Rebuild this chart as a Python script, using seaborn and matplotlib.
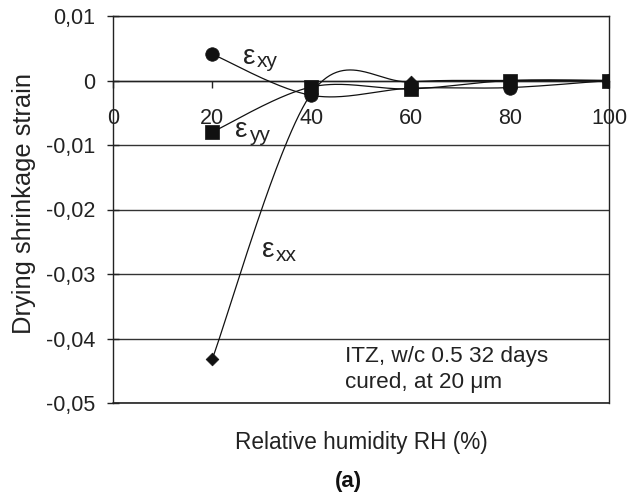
import numpy as np
import pandas as pd
import seaborn as sns
import matplotlib
matplotlib.use("Agg")
import matplotlib.pyplot as plt

# ---------------- data ----------------
rh = [20, 40, 60, 80, 100]
eps_xx = [-0.0432, -0.0020, -0.0002, 0.0000, 0.0000]
eps_xy = [0.0041, -0.0023, -0.0012, -0.0011, 0.0000]
eps_yy = [-0.0080, -0.0010, -0.0013, 0.0000, 0.0000]

x_ticks = [0, 20, 40, 60, 80, 100]
x_tick_labels = ["0", "20", "40", "60", "80", "100"]
y_ticks = [-0.05, -0.04, -0.03, -0.02, -0.01, 0.0, 0.01]
y_tick_labels = ["-0,05", "-0,04", "-0,03", "-0,02", "-0,01", "0", "0,01"]

x_label = "Relative humidity RH (%)"
y_label = "Drying shrinkage strain"
note = "ITZ, w/c 0.5 32 days\ncured, at 20 \u03bcm"
panel = "(a)"


def excel_smooth(x, y, n=60):
    """Excel-style smoothed line (cubic Bezier, Catmull-Rom tangents / 6)."""
    pts = np.column_stack([x, y]).astype(float)
    m = len(pts)
    out = []
    t = np.linspace(0, 1, n)[:, None]
    for i in range(m - 1):
        p0, p3 = pts[i], pts[i + 1]
        prev = pts[i - 1] if i > 0 else pts[i]
        nxt = pts[i + 2] if i + 2 < m else pts[i + 1]
        c1 = p0 + (p3 - prev) / 6.0
        c2 = p3 - (nxt - p0) / 6.0
        seg = (1 - t) ** 3 * p0 + 3 * (1 - t) ** 2 * t * c1 + 3 * (1 - t) * t ** 2 * c2 + t ** 3 * p3
        out.append(seg if i == 0 else seg[1:])
    return np.vstack(out)


sns.set_theme(style="white")
plt.rcParams["font.family"] = ["Liberation Sans", "DejaVu Sans"]
TXT = "#222222"
FS = 15.5

fig = plt.figure(figsize=(6.32, 4.92), dpi=100)
ax = fig.add_axes([113 / 632, 1 - 403 / 492, 496 / 632, 387 / 492])

series = [("xx", eps_xx, "D", 42), ("xy", eps_xy, "o", 95), ("yy", eps_yy, "s", 90)]
for name, vals, mk, sz in series:
    sm = excel_smooth(rh, vals)
    df = pd.DataFrame({"x": sm[:, 0], "y": sm[:, 1]})
    sns.lineplot(data=df, x="x", y="y", sort=False, estimator=None,
                 color="#111111", lw=0.9, ax=ax, zorder=3)
for name, vals, mk, sz in series:
    sns.scatterplot(x=rh, y=vals, marker=mk, s=sz, color="#111111",
                    edgecolor="#111111", linewidth=0.5, ax=ax, zorder=4)

ax.set_xlim(0, 100)
ax.set_ylim(-0.05, 0.01)
ax.set_yticks(y_ticks)
ax.set_yticklabels(y_tick_labels)
ax.set_xticks(x_ticks)
ax.set_xticklabels(x_tick_labels)
ax.set_xlabel("")
ax.set_ylabel("")

ax.grid(axis="y", color="#333333", lw=1.0)
ax.grid(axis="x", visible=False)
for s in ["left", "right", "top", "bottom"]:
    ax.spines[s].set_visible(True)
    ax.spines[s].set_color("#222222")
    ax.spines[s].set_linewidth(1.0)
ax.spines["bottom"].set_position(("data", 0))
# bottom frame edge of the plot area
ax.axhline(y_ticks[0], color="#222222", lw=1.2, clip_on=False, zorder=2)

ax.tick_params(axis="y", direction="inout", length=9, width=1.0, pad=8.5,
               colors="#222222", labelcolor=TXT, labelsize=FS, left=True)
ax.tick_params(axis="x", direction="out", length=5, width=1.0, pad=15,
               colors="#222222", labelcolor=TXT, labelsize=FS, bottom=True)

# curve labels
lab = [("xy", 26.2, 0.0026), ("yy", 24.6, -0.0088), ("xx", 30.0, -0.0274)]
for sub, lx, ly in lab:
    ax.text(lx, ly, "\u03b5", fontsize=20, color=TXT, ha="left", va="baseline", zorder=5)
    ax.annotate(sub, (lx, ly), xytext=(10, -2.5), textcoords="offset points",
                fontsize=15, color=TXT, ha="left", va="baseline", zorder=5)

ax.text(46.8, -0.0448, note, fontsize=16.2, color=TXT, ha="left", va="center",
        linespacing=1.35, zorder=5)

fig.text(24 / 632, 1 - 203 / 492, y_label, rotation=90, ha="center", va="center",
         fontsize=18.4, color=TXT)
fig.text(361 / 632, 1 - 443 / 492, x_label, ha="center", va="center",
         fontsize=16.3, color=TXT)
fig.text(348 / 632, 1 - 482 / 492, panel, ha="center", va="center",
         fontsize=16, color="#111111", fontweight="bold")

fig.savefig("out.png", dpi=100)
